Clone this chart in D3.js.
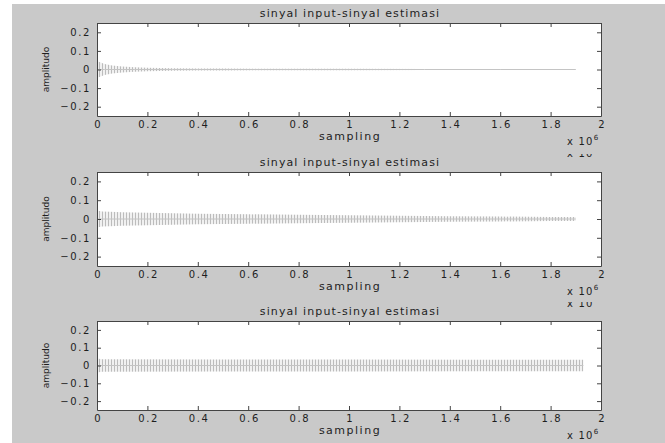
<!DOCTYPE html>
<html><head><meta charset="utf-8">
<script src="https://cdn.jsdelivr.net/npm/d3@7"></script>
<style>html,body{margin:0;padding:0;background:#fff;}svg{display:block;}</style>
</head><body>
<svg id="c" width="665" height="443"></svg>
<script>
// ---- data (x in units of 10^6 samples, envelope half-amplitude) ----
const titles = ["sinyal input-sinyal estimasi","sinyal input-sinyal estimasi","sinyal input-sinyal estimasi"];
const xTicks = [0,0.2,0.4,0.6,0.8,1,1.2,1.4,1.6,1.8,2];
const yTicks = [0.2,0.1,0,-0.1,-0.2];
const s1x   = [0, 0.01, 0.03, 0.06, 0.1, 0.15, 0.2, 0.3, 0.4, 0.5, 0.7, 1.0, 1.3, 1.6, 1.9];
const s1amp = [0.045, 0.04, 0.03, 0.022, 0.016, 0.012, 0.01, 0.007, 0.006, 0.005, 0.004, 0.004, 0.003, 0.003, 0.003];
const s2x   = [0, 0.02, 0.05, 0.1, 0.2, 0.4, 0.6, 0.8, 1.0, 1.2, 1.4, 1.6, 1.8, 1.9];
const s2amp = [0.045, 0.04, 0.038, 0.036, 0.033, 0.028, 0.025, 0.022, 0.02, 0.017, 0.015, 0.013, 0.011, 0.01];
const s3x   = [0, 0.02, 0.5, 1.0, 1.5, 1.93];
const s3amp = [0.04, 0.035, 0.034, 0.034, 0.033, 0.033];
const series = [[s1x,s1amp],[s2x,s2amp],[s3x,s3amp]];

const svg = d3.select("#c");
const font = "'DejaVu Sans', Verdana, sans-serif";
const txt = "#1e1e1e";

// pattern for dense oscillation
const defs = svg.append("defs");
const pat = defs.append("pattern").attr("id","osc").attr("patternUnits","userSpaceOnUse")
  .attr("width",3).attr("height",10);
pat.append("rect").attr("width",3).attr("height",10).attr("fill","#f1f1f1");
pat.append("rect").attr("x",0).attr("width",1).attr("height",10).attr("fill","#bcbcbc");

// figure background
svg.append("rect").attr("x",12).attr("y",4).attr("width",653).attr("height",439).attr("fill","#c9c9c9");

const panels = [
  {top:23, bottom:116},
  {top:172, bottom:266},
  {top:321, bottom:410}
];
const L = 97, R = 601;

panels.forEach((p,i)=>{
  const x = d3.scaleLinear().domain([0,2]).range([L,R]);
  const y = d3.scaleLinear().domain([-0.25,0.25]).range([p.bottom,p.top]);
  const g = svg.append("g");
  g.append("rect").attr("x",L).attr("y",p.top).attr("width",R-L).attr("height",p.bottom-p.top).attr("fill","#fff");

  // signal envelope
  const [sx,sa] = series[i];
  const d = sx.map((v,k)=>({x:v,a:sa[k]}));
  g.append("path").datum(d)
    .attr("d", d3.area().x(e=>x(e.x)).y0(e=>y(-e.a)).y1(e=>y(e.a)))
    .attr("fill","url(#osc)");
  g.append("path").datum(d)
    .attr("d", d3.line().x(e=>x(e.x)).y(e=>y(0)))
    .attr("stroke","#c4c4c4").attr("stroke-width",1).attr("fill","none");

  // axes (MATLAB style, inward ticks)
  const ax = (gen, tr) => {
    const a = g.append("g").attr("transform",tr).call(gen);
    a.select(".domain").attr("stroke","#444");
    a.selectAll(".tick line").attr("stroke","#444");
    a.selectAll("text").attr("fill",txt).style("font-family",font).style("font-size","10px")
      .style("letter-spacing","1.6px");
    return a;
  };
  ax(d3.axisBottom(x).tickValues(xTicks).tickSizeInner(-4).tickSizeOuter(0).tickPadding(5).tickFormat(d3.format("~g")),
     `translate(0,${p.bottom})`).selectAll("text").attr("dx","0.8px");
  ax(d3.axisTop(x).tickValues(xTicks).tickSizeInner(-4).tickSizeOuter(0).tickFormat(""),
     `translate(0,${p.top})`);
  ax(d3.axisLeft(y).tickValues(yTicks).tickSizeInner(-4).tickSizeOuter(0).tickPadding(6).tickFormat(d3.format("~g")),
     `translate(${L},0)`);
  ax(d3.axisRight(y).tickValues(yTicks).tickSizeInner(-4).tickSizeOuter(0).tickFormat(""),
     `translate(${R},0)`);

  // title
  g.append("text").attr("x",350).attr("y",p.top-6).attr("text-anchor","middle")
    .style("font-family",font).style("font-size","11px").style("letter-spacing","1.1px")
    .attr("fill",txt).text(titles[i]);
  // xlabel
  g.append("text").attr("x",350).attr("y",p.bottom+24).attr("text-anchor","middle")
    .style("font-family",font).style("font-size","11px").style("letter-spacing","1.5px")
    .attr("fill",txt).text("sampling");
  // ylabel
  const cy = (p.top+p.bottom)/2;
  g.append("text").attr("transform",`translate(49,${cy}) rotate(-90)`).attr("text-anchor","middle")
    .style("font-family",font).style("font-size","9px").attr("fill",txt).text("amplitudo");
  // exponent label
  const ex = g.append("text").attr("x",567).attr("y",p.bottom+29)
    .style("font-family",font).style("font-size","10px").style("letter-spacing","1.2px").attr("fill",txt);
  ex.append("tspan").text("x 10");
  ex.append("tspan").attr("dy",-5).style("font-size","7px").text("6");
});

// clipped exponent remnants under the first two panels
[[116, 157],[266, 305]].forEach(([b,cl],k)=>{
  const cid = "clipx"+k;
  defs.append("clipPath").attr("id",cid).append("rect").attr("x",560).attr("y",cl-3).attr("width",50).attr("height",6);
  svg.append("text").attr("x",567).attr("y",b+41).attr("clip-path",`url(#${cid})`)
    .style("font-family",font).style("font-size","10px").style("letter-spacing","1.2px").attr("fill",txt).text("x 10");
});
</script>
</body></html>
